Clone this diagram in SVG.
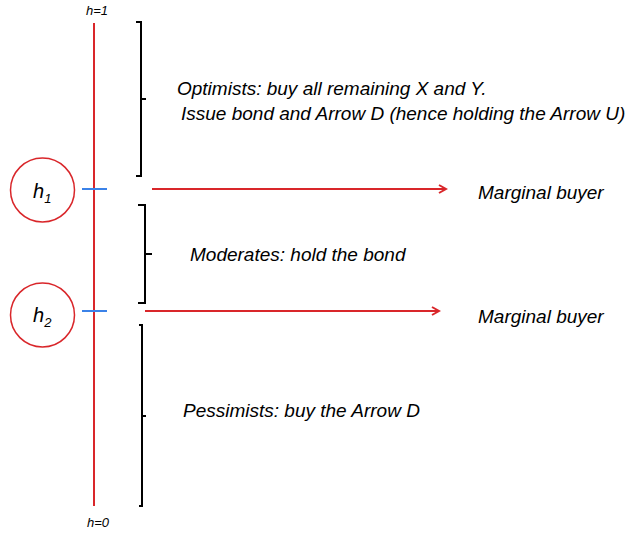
<svg xmlns="http://www.w3.org/2000/svg" width="636" height="535" viewBox="0 0 636 535">
<defs>
<style>
.t{font-family:"Liberation Sans",Arial,sans-serif;font-style:italic;fill:#000}
.lbl{font-size:19px}
.br{fill:none;stroke:#000;stroke-width:2}
.ax{stroke:#d9262a;stroke-width:2;fill:none}
.tick{stroke:#3b82e8;stroke-width:2}
.arr{stroke:#d9262a;stroke-width:2;fill:none}
.circ{fill:#fff;stroke:#d9262a;stroke-width:1.5}
</style>
<marker id="ah" markerWidth="10" markerHeight="10" refX="8" refY="5" orient="auto" markerUnits="userSpaceOnUse">
<path d="M1,1 L8,5 L1,9" fill="none" stroke="#d9262a" stroke-width="2"/>
</marker>
</defs>
<rect width="636" height="535" fill="#fff"/>
<g id="axis">
<line class="ax" x1="94" y1="23" x2="94" y2="506"/>
<text class="t" x="97" y="15" font-size="13" text-anchor="middle">h=1</text>
<text class="t" x="98" y="527" font-size="13" text-anchor="middle">h=0</text>
<line class="tick" x1="82" y1="189" x2="107" y2="189"/>
<line class="tick" x1="82" y1="311" x2="107" y2="311"/>
</g>
<g id="node-h1">
<circle class="circ" cx="42.5" cy="190" r="32"/>
<text class="t" x="33" y="198" font-size="20">h<tspan font-size="13" dy="5">1</tspan></text>
</g>
<g id="node-h2">
<circle class="circ" cx="42.5" cy="315" r="32"/>
<text class="t" x="33" y="322" font-size="20">h<tspan font-size="13" dy="5">2</tspan></text>
</g>
<g id="node-optimists">
<path class="br" d="M136,22 H141 V176 H136 M141,99 H146"/>
<text class="t lbl" x="177" y="95">Optimists: buy all remaining X and  Y.</text>
<text class="t lbl" x="181" y="120">Issue bond and Arrow D (hence holding the Arrow U)</text>
</g>
<g id="node-moderates">
<path class="br" d="M138,205 H145 V303 H138 M145,254 H152"/>
<text class="t lbl" x="190" y="261">Moderates: hold the bond</text>
</g>
<g id="node-pessimists">
<path class="br" d="M139,325 H142 V506 H139 M142,416 H146"/>
<text class="t lbl" x="183" y="417">Pessimists: buy the Arrow D</text>
</g>
<g id="node-mb1">
<text class="t lbl" x="478" y="199">Marginal buyer</text>
</g>
<g id="node-mb2">
<text class="t lbl" x="478" y="323">Marginal buyer</text>
</g>
<g id="connectors">
<line class="arr" x1="152" y1="189" x2="446" y2="189" marker-end="url(#ah)"/>
<line class="arr" x1="145" y1="311" x2="439" y2="311" marker-end="url(#ah)"/>
</g>
</svg>
